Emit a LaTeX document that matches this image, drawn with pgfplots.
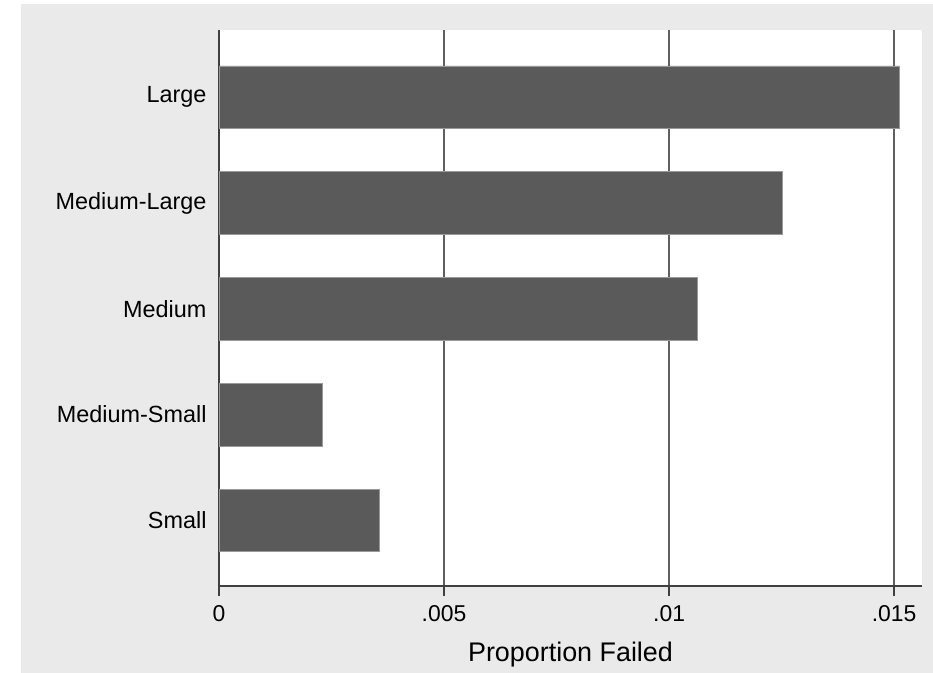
\documentclass[border=0pt]{standalone}
\usepackage{pgfplots}
\pgfplotsset{compat=1.18}
\usepackage{fontspec}
\setmainfont{Liberation Sans}
\definecolor{bgg}{HTML}{EAEAEA}
\definecolor{barc}{HTML}{5A5A5A}
\definecolor{gridc}{HTML}{606060}
\begin{document}
\begin{tikzpicture}[x=1bp,y=1bp]
\fill[white] (0,0) rectangle (933,-673);
\fill[bgg] (21,-4) rectangle (933,-673);
\begin{axis}[
 at={(219bp,-586bp)}, anchor=south west,
 scale only axis, width=703bp, height=556bp,
 xmin=0, xmax=0.01562, ymin=-0.62, ymax=4.635,
 axis background/.style={fill=white},
 axis x line*=bottom, axis y line*=left,
 axis line style={black!75, line width=1.3bp, -},
 xtick={0,0.005,0.01,0.015}, xticklabels={0,.005,.01,.015},
 ytick={0,1,2,3,4}, yticklabels={Small,Medium-Small,Medium,Medium-Large,Large},
 xmajorgrids, major grid style={gridc, line width=1.3bp},
 xtick align=outside, ytick align=inside, major tick length=10bp,
 ytick style={draw=none},
 xtick style={black!75, line width=1.3bp},
 xticklabel style={font=\fontsize{23}{23}\selectfont, yshift=-6bp},
 yticklabel style={font=\fontsize{23.5}{23.5}\selectfont, xshift=1bp},
 xlabel style={font=\fontsize{27}{27}\selectfont, yshift=-13bp},
 xlabel={Proportion Failed},
 scaled x ticks=false,
 xbar, bar width=62.5bp,
]
\addplot[fill=barc, draw=black!40, line width=0.6bp] coordinates {(0.00356,0) (0.0023,1) (0.01062,2) (0.01251,3) (0.01511,4)};
\end{axis}
\pgfresetboundingbox
\useasboundingbox (0,0) rectangle (933,-673);
\end{tikzpicture}
\end{document}
